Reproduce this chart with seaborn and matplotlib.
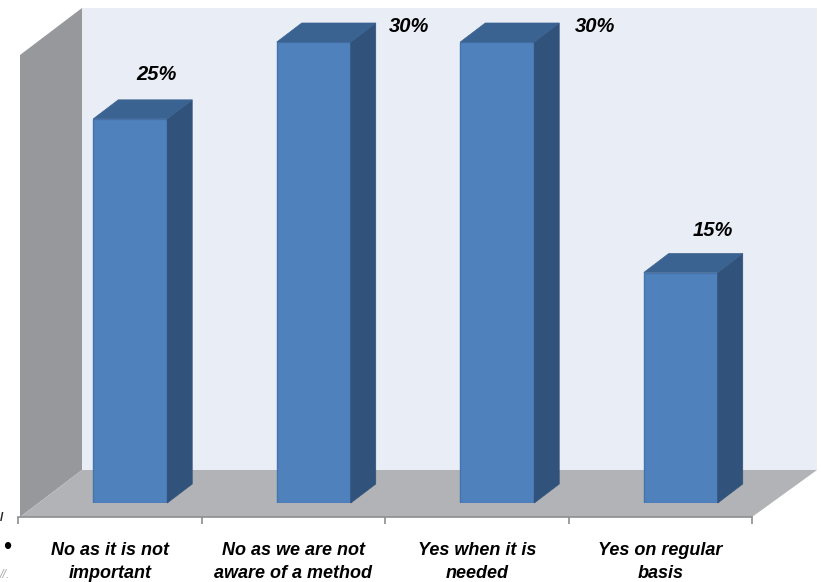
import matplotlib
matplotlib.use("Agg")
import matplotlib.pyplot as plt
import seaborn as sns
import pandas as pd
from matplotlib.patches import Polygon

categories = ["No as it is not\nimportant", "No as we are not\naware of a method",
              "Yes when it is\nneeded", "Yes on regular\nbasis"]
values = [25, 30, 30, 15]
value_labels = ["25%", "30%", "30%", "15%"]
label_offsets_px = [(26, 44), (95, 15), (98, 15), (32, 42)]

FRONT, TOP, SIDE = "#4F81BD", "#3B6391", "#31527B"
BACK, WALL, FLOOR = "#E9EDF6", "#96989B", "#B1B3B6"
W, H = 821, 582

sns.set_theme(style="white")
plt.rcParams["font.family"] = ["Liberation Sans", "DejaVu Sans"]
fig = plt.figure(figsize=(W / 100, H / 100), dpi=100, facecolor="white")


def rect(x0, ytop, x1, ybot):
    return [x0 / W, 1 - ybot / H, (x1 - x0) / W, (ybot - ytop) / H]


# Room behind the bars, in pixel coordinates
bg = fig.add_axes([0, 0, 1, 1], zorder=0)
bg.set_xlim(0, W)
bg.set_ylim(H, 0)
bg.axis("off")
bg.add_patch(Polygon([(82, 8), (817, 8), (817, 470), (82, 470)], fc=BACK, ec="none"))
bg.add_patch(Polygon([(20, 55), (82, 8), (82, 470), (20, 517)], fc=WALL, ec="none"))
bg.add_patch(Polygon([(82, 470), (817, 470), (752, 517), (20, 517)], fc=FLOOR, ec="none"))

# Category axis along the front edge of the floor
base = fig.add_axes(rect(18, 420, 752, 517), zorder=1)
base.patch.set_alpha(0)
base.set_xlim(-0.5, 3.5)
base.set_ylim(0, 1)
for s in ("top", "left", "right"):
    base.spines[s].set_visible(False)
base.spines["bottom"].set_color("#8C8E90")
base.spines["bottom"].set_linewidth(1.2)
base.set_yticks([])
base.set_xticks([-0.5, 0.5, 1.5, 2.5, 3.5])
base.set_xticklabels([])
base.tick_params(axis="x", which="major", length=5, width=1.2, color="#8C8E90", bottom=True)
base.set_xticks(range(4), minor=True)
base.set_xticklabels(categories, minor=True, fontsize=13, fontweight="bold",
                     fontstyle="italic", color="black", linespacing=1.45)
base.tick_params(axis="x", which="minor", length=0, pad=17.8)

# Bars
ax = fig.add_axes(rect(38.5, 42, 772.5, 503), zorder=2)
ax.patch.set_alpha(0)
df = pd.DataFrame({"category": categories, "value": values})
sns.barplot(data=df, x="category", y="value", color=FRONT, saturation=1, width=0.403,
            edgecolor="#4573AB", linewidth=1, ax=ax)
ax.set_xlim(-0.5, 3.5)
ax.set_ylim(0, 30)
ax.axis("off")

dx = 25 / (734 / 4)
dy = 19 / (461 / 30)
for p, v, text, (ox, oy) in zip(ax.patches, values, value_labels, label_offsets_px):
    x0, x1 = p.get_x(), p.get_x() + p.get_width()
    ax.add_patch(Polygon([(x1, 0), (x1 + dx, dy), (x1 + dx, v + dy), (x1, v)],
                         fc=SIDE, ec=SIDE, lw=0.5, clip_on=False, zorder=3))
    ax.add_patch(Polygon([(x0, v), (x1, v), (x1 + dx, v + dy), (x0 + dx, v + dy)],
                         fc=TOP, ec=TOP, lw=0.5, clip_on=False, zorder=3))
    ax.annotate(text, xy=((x0 + x1) / 2, v), xytext=(ox * 0.72, oy * 0.72),
                textcoords="offset points", ha="center", va="center", fontsize=14.5,
                fontweight="bold", fontstyle="italic", color="black",
                annotation_clip=False, zorder=5)

# Stray marks at the left edge of the crop
bg.text(7, 548, "•", fontsize=17, color="black", ha="center", va="center")
bg.text(0, 518, "/", fontsize=9, color="#222222", ha="left", va="center", fontweight="bold")
bg.text(0, 575, "//.", fontsize=9, color="#AAAAAA", ha="left", va="center", fontstyle="italic")

fig.savefig("out.png", dpi=100)
